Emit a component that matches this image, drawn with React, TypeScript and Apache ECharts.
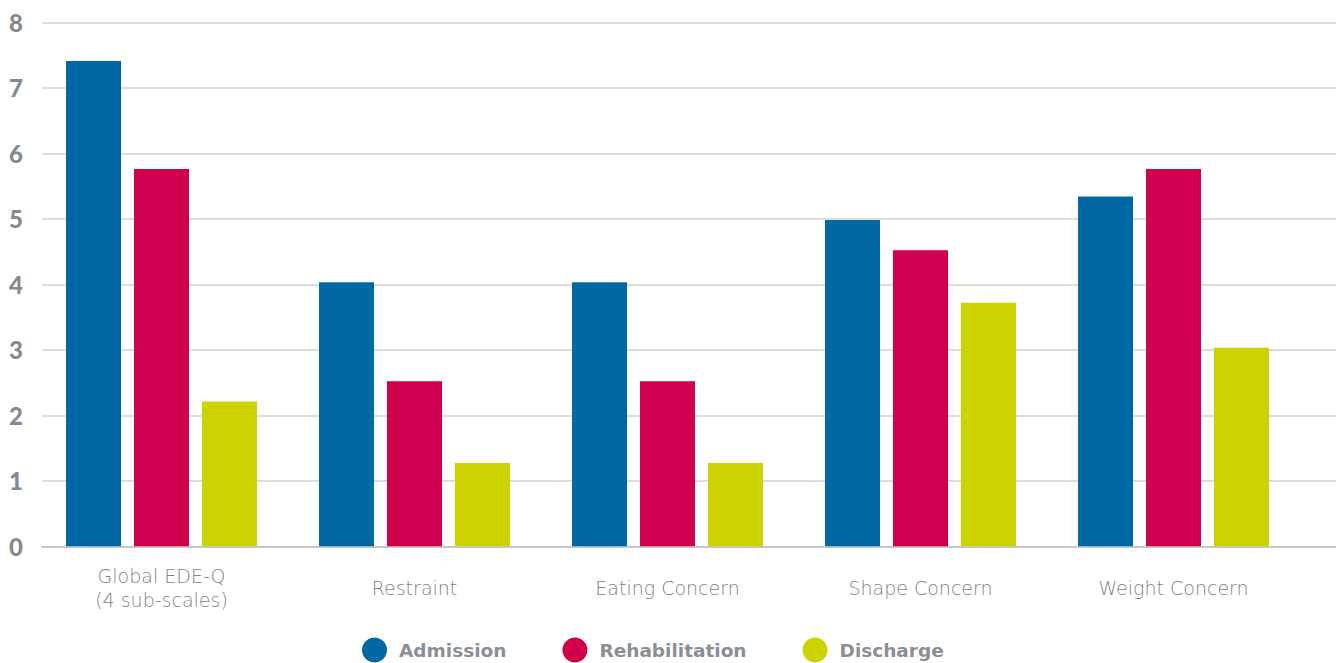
import React, { useEffect, useRef } from "react";
import * as echarts from "echarts";

const categories = [
  "Global EDE-Q\n(4 sub-scales)",
  "Restraint",
  "Eating Concern",
  "Shape Concern",
  "Weight Concern",
];
const admission = [7.41, 4.03, 4.03, 4.98, 5.34];
const rehabilitation = [5.76, 2.52, 2.52, 4.52, 5.76];
const discharge = [2.21, 1.27, 1.27, 3.72, 3.03];
const seriesNames = ["Admission", "Rehabilitation", "Discharge"];
const colors = ["#0068a4", "#d1004f", "#ccd300"];

export default function App() {
  const ref = useRef<HTMLDivElement>(null);
  useEffect(() => {
    if (!ref.current) return;
    const chart = echarts.init(ref.current, null, { renderer: "svg" });
    const gray = "#8b8f94";
    const top = 22.3;
    const bottom = 663 - 546.3;
    const values = [admission, rehabilitation, discharge];
    chart.setOption({
      animation: false,
      backgroundColor: "#ffffff",
      color: colors,
      grid: [
        { left: 42, right: 0, top, bottom, containLabel: false },
        { left: 35, width: 1265, top, bottom, containLabel: false },
      ],
      xAxis: [
        {
          gridIndex: 0,
          type: "value",
          min: 0,
          max: 1,
          axisLine: { show: true, lineStyle: { color: "#c6c7ca", width: 2 } },
          axisTick: { show: false },
          axisLabel: { show: false },
          splitLine: { show: false },
        },
        {
          gridIndex: 1,
          type: "category",
          data: categories,
          axisLine: { show: false },
          axisTick: { show: false },
          axisLabel: {
            color: "#7f8388",
            fontFamily: "DejaVu Sans",
            fontWeight: 200,
            fontSize: 19,
            lineHeight: 24,
            verticalAlign: "middle",
            margin: 42,
            interval: 0,
          },
        },
      ],
      yAxis: [
        {
          gridIndex: 0,
          type: "value",
          min: 0,
          max: 8,
          interval: 1,
          axisLine: { show: false },
          axisTick: { show: false },
          axisLabel: {
            color: "#858990",
            fontFamily: "Lato",
            fontWeight: 900,
            fontSize: 24,
            margin: 19,
          },
          splitLine: { show: true, lineStyle: { color: "#dddddd", width: 2 } },
        },
        {
          gridIndex: 1,
          type: "value",
          min: 0,
          max: 8,
          show: false,
          splitLine: { show: false },
        },
      ],
      legend: {
        left: 362,
        top: 637.5,
        padding: 0,
        icon: "circle",
        itemWidth: 25,
        itemHeight: 25,
        itemGap: 56,
        data: seriesNames,
        textStyle: {
          color: gray,
          fontFamily: "DejaVu Sans",
          fontWeight: "bold",
          fontSize: 18.5,
          padding: [0, 0, 0, 7],
        },
      },
      series: seriesNames.map((name, i) => ({
        name,
        type: "bar",
        xAxisIndex: 1,
        yAxisIndex: 1,
        data: values[i],
        barWidth: 55,
        barGap: "23.6%",
        itemStyle: { color: colors[i] },
      })),
    });
    return () => chart.dispose();
  }, []);
  return (
    <div
      ref={ref}
      style={{ position: "fixed", left: 0, top: 0, width: 1336, height: 663 }}
    />
  );
}
